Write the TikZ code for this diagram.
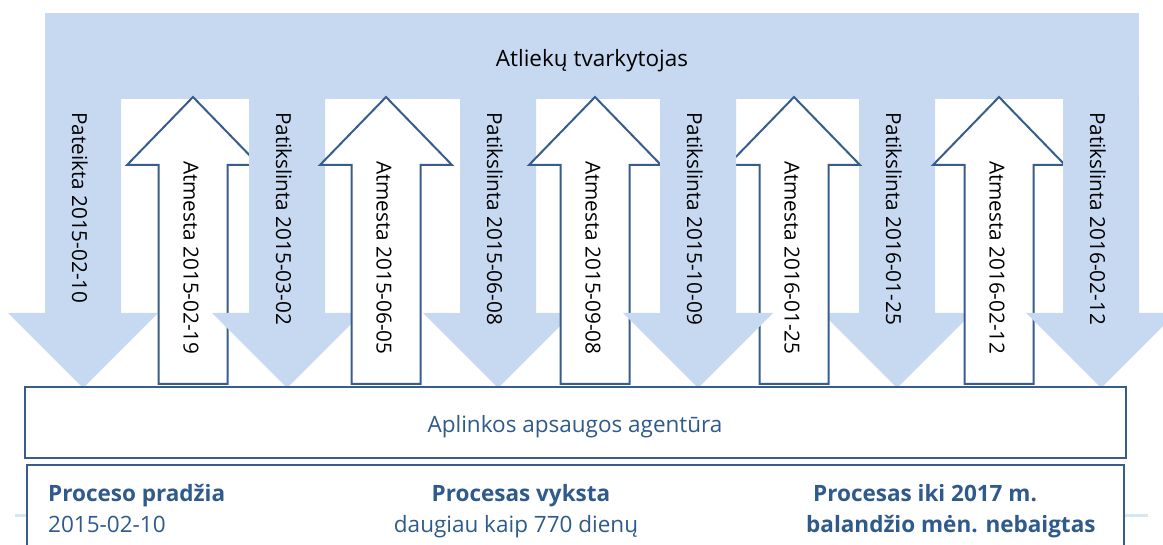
\documentclass[tikz,border=0pt]{standalone}
\usepackage{fontspec}
\setmainfont{Open Sans}
\definecolor{wasteblue}{HTML}{C6D9F1}
\definecolor{agencyblue}{HTML}{385D8A}
\definecolor{textblue}{HTML}{2F5A8C}
\definecolor{paleline}{HTML}{D3E8F0}

\begin{document}
\begin{tikzpicture}[
        x = 1pt, y = -1pt,
        wastefill/.style  = {fill = wasteblue},
        agencyline/.style = {draw = agencyblue, line width = 2pt},
        datelabel/.style  = {rotate = -90, anchor = west, inner sep = 0pt,
                             font = \fontsize{20.7}{24}\selectfont},
        boxtext/.style    = {inner sep = 0pt, text = textblue,
                             font = \fontsize{22.5}{27}\selectfont},
        towards agency/.pic = {
          \fill[wastefill] (-38, 98) -- (38, 98) -- (38, 313) -- (75, 313)
            -- (0, 388) -- (-75, 313) -- (-38, 313) -- cycle;
          \node[datelabel] (-label) at (-3, 112) {#1};
        },
        towards holder/.pic = {
          \draw[agencyline, fill = white] (-34.5, 384) -- (-34.5, 165) -- (-66, 165)
            -- (0, 97) -- (66, 165) -- (34.5, 165) -- (34.5, 384) -- cycle;
          \node[datelabel] (-label) at (-2, 161) {#1};
        }
      ]
      \useasboundingbox (0, 0) rectangle (1163, 545);
      \clip (0, 0) rectangle (1163, 545);
      % the waste holder
      \fill[wastefill] (45, 13) rectangle (1139, 99.5);
      \node[inner sep = 0pt, anchor = base, font = \fontsize{22.5}{27}\selectfont]
        (holder) at (592, 67) {Atliekų tvarkytojas};
      % submitted / clarified (down) and rejected (up)
      \pic (d1) at (83, 0)   {towards agency = {Pateikta 2015-02-10}};
      \pic (u1) at (193, 0)  {towards holder = {Atmesta 2015-02-19}};
      \pic (d2) at (287, 0)  {towards agency = {Patikslinta 2015-03-02}};
      \pic (u2) at (386, 0)  {towards holder = {Atmesta 2015-06-05}};
      \pic (d3) at (498, 0)  {towards agency = {Patikslinta 2015-06-08}};
      \pic (u3) at (595, 0)  {towards holder = {Atmesta 2015-09-08}};
      \pic (d5) at (897, 0)  {towards agency = {Patikslinta 2016-01-25}};
      \pic (u4) at (794, 0)  {towards holder = {Atmesta 2016-01-25}};
      \pic (d4) at (698, 0)  {towards agency = {Patikslinta 2015-10-09}};
      \pic (u5) at (999, 0)  {towards holder = {Atmesta 2016-02-12}};
      \pic (d6) at (1101, 0) {towards agency = {Patikslinta 2016-02-12}};
      % the agency
      \node[agencyline, fill = white, minimum width = 1101pt, minimum height = 71pt]
        (agency) at (575.5, 422.5) {};
      \node[boxtext, anchor = base] (agencyname) at (575, 433) {Aplinkos apsaugos agentūra};
      % the process
      \draw[paleline, line width = 3pt] (15, 515) -- (1148, 515);
      \node[draw = agencyblue, line width = 2.5pt, fill = white,
            minimum width = 1097pt, minimum height = 95pt] (process) at (575.5, 512.5) {};
      \node[boxtext, anchor = base west, font = \fontsize{22.5}{27}\selectfont\bfseries]
        (start) at (48, 501) {Proceso pradžia};
      \node[boxtext, anchor = base west] (startdate) at (48, 532) {2015-02-10};
      \node[boxtext, anchor = base, font = \fontsize{22.5}{27}\selectfont\bfseries]
        (ongoing) at (521, 501) {Procesas vyksta};
      \node[boxtext, anchor = base] (ongoingdays) at (516, 532) {daugiau kaip 770 dienų};
      \node[boxtext, anchor = base west, font = \fontsize{22.5}{27}\selectfont\bfseries]
        (open) at (813, 501) {Procesas iki 2017 m.};
      \node[boxtext, anchor = base west, font = \fontsize{22.5}{27}\selectfont\bfseries]
        (opendate) at (806, 532) {balandžio mėn. nebaigtas};
    \end{tikzpicture}
\end{document}
